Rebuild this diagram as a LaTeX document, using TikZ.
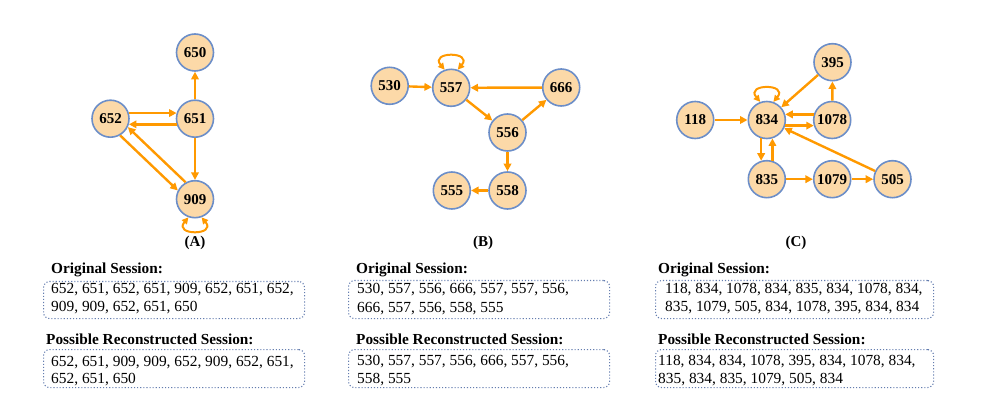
\documentclass[tikz,border=0pt]{standalone}
\usepackage{fontspec}
\setmainfont{Liberation Serif}
\usetikzlibrary{arrows.meta}
\definecolor{nodefill}{RGB}{252,217,168}
\definecolor{nodeline}{RGB}{108,142,200}
\definecolor{arrowc}{RGB}{255,153,0}
\definecolor{boxline}{RGB}{100,125,175}
\tikzset{
  vtx/.style={circle, draw=nodeline, fill=nodefill, line width=1.6pt, minimum size=37pt, inner sep=0pt, font=\fontsize{15}{18}\selectfont\bfseries},
  edge/.style={draw=arrowc, line width=2.4pt, -{Triangle[length=7.5pt,width=7.5pt]}},
  loopedge/.style={draw=arrowc, line width=2pt, {Triangle[length=6.5pt,width=6.5pt]}-{Triangle[length=6.5pt,width=6.5pt]}},
  sbox/.style={draw=boxline, dotted, line width=1.1pt, rounded corners=6pt, anchor=north west, inner sep=0pt},
  stxt/.style={anchor=base west, inner sep=0pt, font=\fontsize{15.4}{18}\selectfont},
  slab/.style={anchor=base west, inner sep=0pt, font=\fontsize{15.3}{18}\selectfont\bfseries},
  plab/.style={inner sep=0pt, font=\fontsize{15}{18}\selectfont\bfseries}
}
\begin{document}
\begin{tikzpicture}[x=1pt,y=-1pt]
\useasboundingbox (0,0) rectangle (983,406);
% ---------- Panel A ----------
\node[vtx] (n650) at (195,52.5) {650};
\node[vtx] (n652) at (110.5,118.7) {652};
\node[vtx] (n651) at (195,118.7) {651};
\node[vtx] (n909) at (195,199.2) {909};
\draw[edge] (n651) -- (n650);
\draw[edge] (n652.17) -- (n651.163);
\draw[edge] (n651.-163) -- (n652.-17);
\draw[edge] (n909.119.4) -- (n652.-26.6);
\draw[edge] (n652.-60.6) -- (n909.153.4);
\draw[edge] (n651) -- (n909);
\draw[loopedge] (n909.-110) .. controls +(-15.4,18.4) and +(15.4,18.4) .. (n909.-70);
\node[plab] (labA) at (195,243) {(A)};
% ---------- Panel B ----------
\node[vtx] (n530) at (389.7,85.8) {530};
\node[vtx] (n557) at (451.2,87.8) {557};
\node[vtx] (n666) at (561.2,87.5) {666};
\node[vtx] (n556) at (507.5,132.5) {556};
\node[vtx] (n558) at (507.5,190.5) {558};
\node[vtx] (n555) at (451.8,190.5) {555};
\draw[edge] (n530) -- (n557);
\draw[edge] (n666) -- (n557);
\draw[edge] (n557) -- (n556);
\draw[edge] (n556) -- (n666);
\draw[edge] (n556) -- (n558);
\draw[edge] (n558) -- (n555);
\draw[loopedge] (n557.110) .. controls +(-15.4,-18.4) and +(15.4,-18.4) .. (n557.70);
\node[plab] (labB) at (483,243) {(B)};
% ---------- Panel C ----------
\node[vtx] (n395) at (832.5,62.2) {395};
\node[vtx] (n118) at (695.2,120) {118};
\node[vtx] (n834) at (766.8,120) {834};
\node[vtx] (n1078) at (832.2,120) {1078};
\node[vtx] (n835) at (766.8,179.2) {835};
\node[vtx] (n1079) at (832.2,179.2) {1079};
\node[vtx] (n505) at (892.5,179.2) {505};
\draw[edge] (n118) -- (n834);
\draw[edge] (n395) -- (n834);
\draw[edge] (n1078) -- (n395);
\draw[edge] (n1078.163) -- (n834.17);
\draw[edge] (n834.-17) -- (n1078.-163);
\draw[edge] (n834.-107) -- (n835.107);
\draw[edge] (n835.73) -- (n834.-73);
\draw[edge] (n835) -- (n1079);
\draw[edge] (n1079) -- (n505);
\draw[edge] (n505) -- (n834);
\draw[loopedge] (n834.110) .. controls +(-15.4,-18.4) and +(15.4,-18.4) .. (n834.70);
\node[plab] (labC) at (796,243) {(C)};
% ---------- Session boxes A ----------
\node[slab] (tA1) at (51,274) {Original Session:};
\node[sbox, minimum width=261pt, minimum height=37pt] (bA1) at (43,281) {};
\node[stxt] (lA1a) at (51,294) {652, 651, 652, 651, 909, 652, 651, 652,};
\node[stxt] (lA1b) at (51,312) {909, 909, 652, 651, 650};
\node[slab] (tA2) at (46,344) {Possible Reconstructed Session:};
\node[sbox, minimum width=261pt, minimum height=38pt] (bA2) at (43,349) {};
\node[stxt] (lA2a) at (51,366) {652, 651, 909, 909, 652, 909, 652, 651,};
\node[stxt] (lA2b) at (51,383.5) {652, 651, 650};
% ---------- Session boxes B ----------
\node[slab] (tB1) at (356,274) {Original Session:};
\node[sbox, minimum width=261pt, minimum height=38pt] (bB1) at (348,280) {};
\node[stxt] (lB1a) at (357,294) {530, 557, 556, 666, 557, 557, 556,};
\node[stxt] (lB1b) at (357,312.5) {666, 557, 556, 558, 555};
\node[slab] (tB2) at (356,344) {Possible Reconstructed Session:};
\node[sbox, minimum width=261pt, minimum height=38pt] (bB2) at (348,349) {};
\node[stxt] (lB2a) at (357,365.5) {530, 557, 557, 556, 666, 557, 556,};
\node[stxt] (lB2b) at (357,383.5) {558, 555};
% ---------- Session boxes C ----------
\node[slab] (tC1) at (658,274) {Original Session:};
\node[sbox, minimum width=278pt, minimum height=38pt] (bC1) at (655,280) {};
\node[stxt] (lC1a) at (665,294) {118, 834, 1078, 834, 835, 834, 1078, 834,};
\node[stxt] (lC1b) at (665,312) {835, 1079, 505, 834, 1078, 395, 834, 834};
\node[slab] (tC2) at (658,344) {Possible Reconstructed Session:};
\node[sbox, minimum width=278pt, minimum height=38pt] (bC2) at (655,349) {};
\node[stxt] (lC2a) at (658,365.5) {118, 834, 834, 1078, 395, 834, 1078, 834,};
\node[stxt] (lC2b) at (658,383.5) {835, 834, 835, 1079, 505, 834};
\end{tikzpicture}
\end{document}
